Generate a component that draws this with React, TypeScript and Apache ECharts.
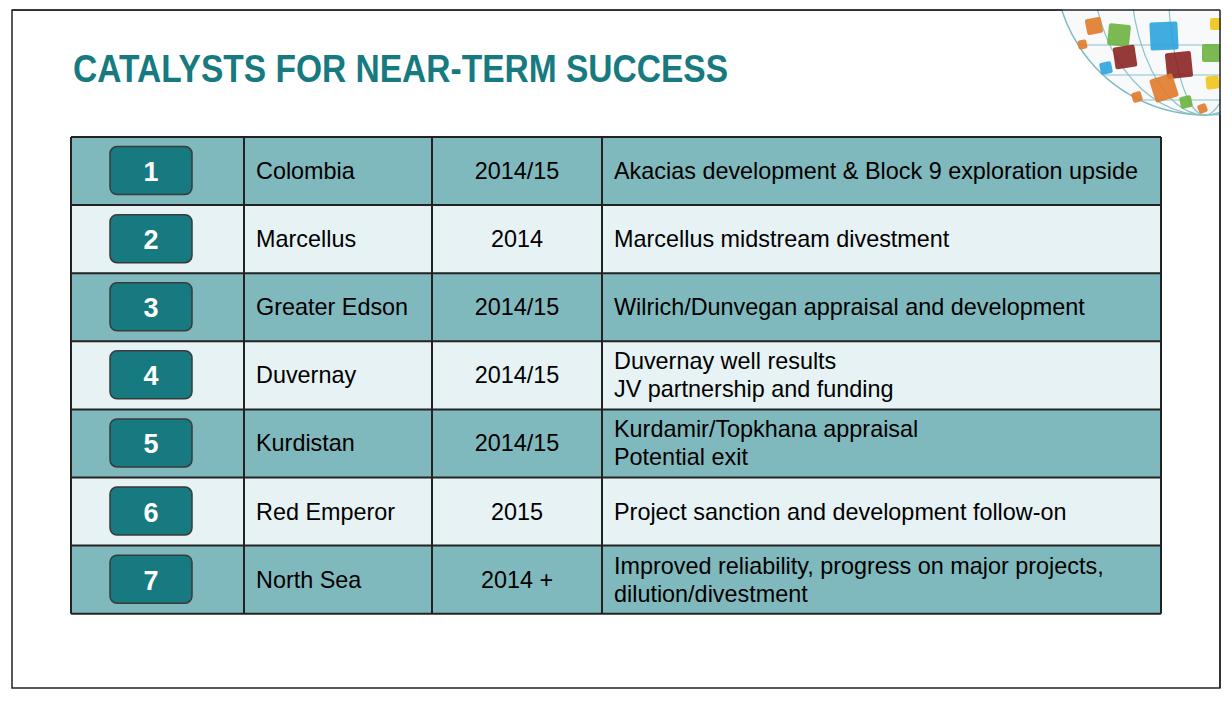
import { useEffect, useRef } from 'react'
import * as echarts from 'echarts'

const ranks = ['1', '2', '3', '4', '5', '6', '7']
const regions = ['Colombia', 'Marcellus', 'Greater Edson', 'Duvernay', 'Kurdistan', 'Red Emperor', 'North Sea']
const years = ['2014/15', '2014', '2014/15', '2014/15', '2014/15', '2015', '2014 +']
const catalysts = [
  'Akacias development & Block 9 exploration upside',
  'Marcellus midstream divestment',
  'Wilrich/Dunvegan appraisal and development',
  'Duvernay well results\nJV partnership and funding',
  'Kurdamir/Topkhana appraisal\nPotential exit',
  'Project sanction and development follow-on',
  'Improved reliability, progress on major projects,\ndilution/divestment',
]

const TEAL = '#177A80'
const DARK_ROW = '#80B9BD'
const LIGHT_ROW = '#E6F2F3'
const FONT = 'Liberation Sans, Arial, sans-serif'

// globe tiles in the corner: [x, y, size, rotation, colour]
const tiles: [number, number, number, number, string][] = [
  [1086, 18, 16, 0.2, '#E07A2A'],
  [1108, 24, 22, -0.1, '#6DB33F'],
  [1150, 22, 28, 0.05, '#2BA3DC'],
  [1114, 46, 22, 0.15, '#8B2323'],
  [1166, 52, 26, 0.1, '#8B2323'],
  [1152, 76, 24, 0.3, '#E07A2A'],
  [1202, 44, 18, 0, '#6DB33F'],
  [1210, 18, 12, 0, '#F2C417'],
  [1100, 62, 12, 0.2, '#2BA3DC'],
  [1132, 92, 10, 0.3, '#E07A2A'],
  [1180, 96, 12, 0.2, '#6DB33F'],
  [1206, 76, 13, 0.1, '#F2C417'],
  [1198, 104, 9, 0.4, '#E07A2A'],
  [1078, 40, 9, 0.2, '#E07A2A'],
]

export default function App() {
  const chartRef = useRef<HTMLDivElement>(null)

  useEffect(() => {
    if (!chartRef.current) return
    const chart = echarts.init(chartRef.current, null, { renderer: 'svg' })

    const left = 71
    const top = 137
    const rowH = 68.1
    const cols = [71, 244, 432, 602, 1161]
    const bottom = top + rowH * ranks.length

    const elements: any[] = []

    // slide frame
    elements.push({
      type: 'rect',
      shape: { x: 12, y: 10, width: 1208, height: 678 },
      style: { fill: '#fff', stroke: '#222', lineWidth: 1.5 },
    })

    // globe
    const gcx = 1205
    const gcy = -35
    const gr = 150
    const globe: any[] = [
      { type: 'circle', shape: { cx: gcx, cy: gcy, r: gr }, style: { fill: '#F7F9FA', stroke: '#7FB8C0', lineWidth: 1.5 } },
    ]
    ;[0.25, 0.5, 0.75].forEach((k) => {
      globe.push({
        type: 'ellipse',
        shape: { cx: gcx, cy: gcy, rx: gr * k, ry: gr },
        style: { fill: 'none', stroke: '#8CC2C8', lineWidth: 1.2 },
      })
    })
    ;[40, 80, 110, 135].forEach((d) => {
      const half = Math.sqrt(Math.max(gr * gr - d * d, 0))
      globe.push({
        type: 'line',
        shape: { x1: gcx - half, y1: gcy + d, x2: gcx + half, y2: gcy + d },
        style: { stroke: '#8CC2C8', lineWidth: 1.2 },
      })
    })
    tiles.forEach(([x, y, s, rot, c]) => {
      globe.push({
        type: 'rect',
        x: x + s / 2,
        y: y + s / 2,
        rotation: rot,
        shape: { x: -s / 2, y: -s / 2, width: s, height: s, r: 2 },
        style: { fill: c, opacity: 0.9 },
      })
    })
    elements.push({ type: 'group', children: globe })
    // mask outside the frame
    elements.push({ type: 'rect', shape: { x: 0, y: 0, width: 1232, height: 9.2 }, style: { fill: '#fff' } })
    elements.push({ type: 'rect', shape: { x: 1220.8, y: 0, width: 20, height: 702 }, style: { fill: '#fff' } })
    elements.push({ type: 'line', shape: { x1: 12, y1: 10, x2: 1220, y2: 10 }, style: { stroke: '#222', lineWidth: 1.5 } })
    elements.push({ type: 'line', shape: { x1: 1220, y1: 10, x2: 1220, y2: 688 }, style: { stroke: '#222', lineWidth: 1.5 } })

    // title
    elements.push({
      type: 'text',
      x: 73,
      y: 69,
      scaleX: 0.86,
      style: {
        text: 'CATALYSTS FOR NEAR-TERM SUCCESS',
        fill: TEAL,
        font: `bold 39px ${FONT}`,
        verticalAlign: 'middle',
      },
    })

    ranks.forEach((rank, i) => {
      const y = top + i * rowH
      const cy = y + rowH / 2
      elements.push({
        type: 'rect',
        shape: { x: left, y, width: cols[4] - left, height: rowH },
        style: { fill: i % 2 === 0 ? DARK_ROW : LIGHT_ROW },
      })
      elements.push({
        type: 'rect',
        shape: { x: 110, y: cy - 24.5, width: 82, height: 48, r: 7 },
        style: { fill: TEAL, stroke: '#3A3A3A', lineWidth: 1.5 },
      })
      elements.push({
        type: 'text',
        x: 151,
        y: cy + 1,
        style: { text: rank, fill: '#fff', font: `bold 27px ${FONT}`, align: 'center', verticalAlign: 'middle' },
      })
      elements.push({
        type: 'text',
        x: 256,
        y: cy,
        style: { text: regions[i], fill: '#000', font: `23.4px ${FONT}`, verticalAlign: 'middle' },
      })
      elements.push({
        type: 'text',
        x: (cols[2] + cols[3]) / 2,
        y: cy,
        style: { text: years[i], fill: '#000', font: `23.4px ${FONT}`, align: 'center', verticalAlign: 'middle' },
      })
      elements.push({
        type: 'text',
        x: 614,
        y: cy,
        style: {
          text: catalysts[i],
          fill: '#000',
          font: `23.4px ${FONT}`,
          lineHeight: 28,
          verticalAlign: 'middle',
        },
      })
    })

    // grid lines
    for (let i = 0; i <= ranks.length; i++) {
      const y = top + i * rowH
      elements.push({
        type: 'line',
        shape: { x1: left, y1: y, x2: cols[4], y2: y },
        style: { stroke: '#222', lineWidth: 2 },
      })
    }
    cols.forEach((x) => {
      elements.push({
        type: 'line',
        shape: { x1: x, y1: top, x2: x, y2: bottom },
        style: { stroke: '#222', lineWidth: 2 },
      })
    })

    chart.setOption({
      animation: false,
      graphic: { elements },
    })

    return () => {
      chart.dispose()
    }
  }, [])

  return <div ref={chartRef} style={{ position: 'fixed', left: 0, top: 0, width: 1232, height: 702, background: '#fff' }} />
}
